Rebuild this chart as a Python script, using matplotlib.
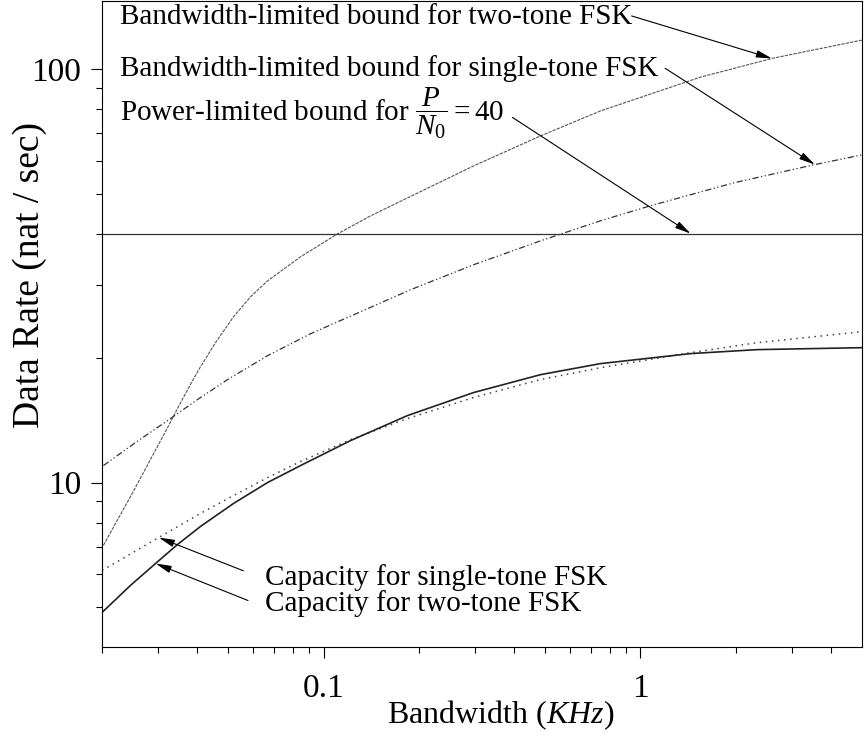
import matplotlib
matplotlib.use("Agg")
import matplotlib.pyplot as plt
import numpy as np
from matplotlib.ticker import FixedLocator, NullFormatter

plt.rcParams["font.family"] = ["Liberation Serif", "DejaVu Serif"]
plt.rcParams["mathtext.fontset"] = "custom"
plt.rcParams["mathtext.rm"] = "Liberation Serif"
plt.rcParams["mathtext.it"] = "Liberation Serif:italic"

# bandwidth in KHz, data rate in nat/sec
bw_two_x = [0.0202, 0.0252, 0.0322, 0.0354, 0.0389, 0.0409, 0.0456, 0.052, 0.0588,
            0.0666, 0.0846, 0.1107, 0.1407, 0.1841, 0.2972, 0.4835, 0.7478, 1.546,
            2.628, 5.0]
bw_two_y = [7.05, 9.57, 13.58, 15.61, 17.83, 19.06, 21.79, 25.18, 28.13,
            30.75, 35.15, 39.94, 44.15, 48.8, 58.3, 68.9, 79.2, 95.6,
            106.3, 117.5]

bw_single_x = [0.0202, 0.0255, 0.0322, 0.0400, 0.0498, 0.0666, 0.0910, 0.1308, 0.1881,
               0.2972, 0.4835, 0.7478, 1.075, 1.965, 3.513, 5.0]
bw_single_y = [10.99, 12.49, 14.12, 15.87, 17.74, 20.27, 22.9, 25.88, 29.26,
               33.62, 38.41, 42.96, 46.7, 53.04, 58.64, 62.0]

power_x = [0.02, 5.0]
power_y = [40, 40]

cap_single_x = [0.02, 0.0302, 0.0409, 0.052, 0.0666, 0.0846, 0.1217, 0.1841, 0.2972,
                0.4835, 0.7478, 1.438, 2.339, 5.0]
cap_single_y = [6.13, 7.36, 8.42, 9.30, 10.28, 11.24, 12.7, 14.28, 16.05,
                17.74, 18.95, 20.61, 21.79, 23.16]

cap_two_x = [0.02, 0.0246, 0.0295, 0.0346, 0.0409, 0.052, 0.0666, 0.0846, 0.1217,
             0.1841, 0.2972, 0.4835, 0.7478, 1.438, 2.339, 5.0]
cap_two_y = [4.85, 5.64, 6.37, 7.08, 7.83, 8.90, 10.0, 10.99, 12.63,
             14.52, 16.5, 18.23, 19.39, 20.5, 20.96, 21.19]


def on_curve(xs, ys, x):
    """Point on a curve at bandwidth x (log-log interpolation)."""
    ly = np.interp(np.log10(x), np.log10(xs), np.log10(ys))
    return x, 10 ** ly


fig = plt.figure(figsize=(8.65, 7.42), dpi=100)
ax = fig.add_axes([0.118, 0.128, 0.8785, 0.8705])

ax.plot(bw_two_x, bw_two_y, color="#555555", lw=0.8, linestyle=(0, (3, 1)))
ax.plot(bw_single_x, bw_single_y, color="#333333", lw=0.9,
        linestyle=(0, (5, 2, 1, 2, 1, 2)))
ax.plot(power_x, power_y, color="#333333", lw=0.9)
ax.plot(cap_single_x, cap_single_y, color="#444444", lw=1.1, linestyle=(0, (1, 3)))
ax.plot(cap_two_x, cap_two_y, color="#222222", lw=1.2)

ax.set_xscale("log")
ax.set_yscale("log")
ax.set_xlim(0.02, 5.0)
ax.set_ylim(4.0, 146)

ax.xaxis.set_major_locator(FixedLocator([0.1, 1]))
ax.set_xticklabels(["0.1", "1"])
ax.xaxis.set_minor_locator(FixedLocator([0.02, 0.03, 0.04, 0.05, 0.06, 0.07, 0.08, 0.09,
                                         0.2, 0.3, 0.4, 0.5, 0.6, 0.7, 0.8, 0.9,
                                         2, 3, 4]))
ax.yaxis.set_major_locator(FixedLocator([10, 100]))
ax.set_yticklabels(["10", "100"])
ax.yaxis.set_minor_locator(FixedLocator([5, 6, 7, 8, 9, 20, 30, 40, 50, 60, 70, 80, 90]))
ax.xaxis.set_minor_formatter(NullFormatter())
ax.yaxis.set_minor_formatter(NullFormatter())

ax.tick_params(which="major", direction="out", length=8, width=0.8, labelsize=24)
ax.tick_params(which="minor", direction="out", length=4, width=0.8)
ax.tick_params(axis="x", which="major", pad=11)
ax.tick_params(axis="y", which="major", pad=7)
for s in ax.spines.values():
    s.set_linewidth(0.8)

ax.set_xlabel(r"Bandwidth ($\mathit{KHz}$)", fontsize=23)
ax.set_ylabel("Data Rate (nat / sec)", fontsize=27)
ax.xaxis.set_label_coords(0.524, -0.08)
ax.yaxis.set_label_coords(-0.072, 0.576)

arrow = dict(arrowstyle="-|>,head_length=0.95,head_width=0.22", color="black",
             lw=0.8, mutation_scale=10, shrinkA=0, shrinkB=0)
fs = 21

ax.text(0.024, 0.975, "Bandwidth-limited bound for two-tone FSK",
        transform=ax.transAxes, fontsize=fs, va="center", ha="left")
ax.annotate("", xy=on_curve(bw_two_x, bw_two_y, 2.6), xycoords="data",
            xytext=(0.697, 0.977), textcoords="axes fraction", arrowprops=arrow)

ax.text(0.024, 0.896, "Bandwidth-limited bound for single-tone FSK",
        transform=ax.transAxes, fontsize=fs, va="center", ha="left")
ax.annotate("", xy=on_curve(bw_single_x, bw_single_y, 3.55), xycoords="data",
            xytext=(0.741, 0.896), textcoords="axes fraction", arrowprops=arrow)

ax.text(0.024, 0.827, r"Power-limited bound for $\dfrac{P}{N_0}\mathit{=40}$",
        transform=ax.transAxes, fontsize=fs, va="center", ha="left")
ax.annotate("", xy=(1.44, power_y[0]), xycoords="data",
            xytext=(0.54, 0.82), textcoords="axes fraction", arrowprops=arrow)

ax.text(0.2145, 0.108, "Capacity for single-tone FSK",
        transform=ax.transAxes, fontsize=fs, va="center", ha="left")
ax.annotate("", xy=on_curve(cap_single_x, cap_single_y, 0.0302), xycoords="data",
            xytext=(0.186, 0.118), textcoords="axes fraction", arrowprops=arrow)

ax.text(0.2145, 0.0666, "Capacity for two-tone FSK",
        transform=ax.transAxes, fontsize=fs, va="center", ha="left")
ax.annotate("", xy=on_curve(cap_two_x, cap_two_y, 0.0295), xycoords="data",
            xytext=(0.192, 0.072), textcoords="axes fraction", arrowprops=arrow)

fig.savefig("out.png", dpi=100)
